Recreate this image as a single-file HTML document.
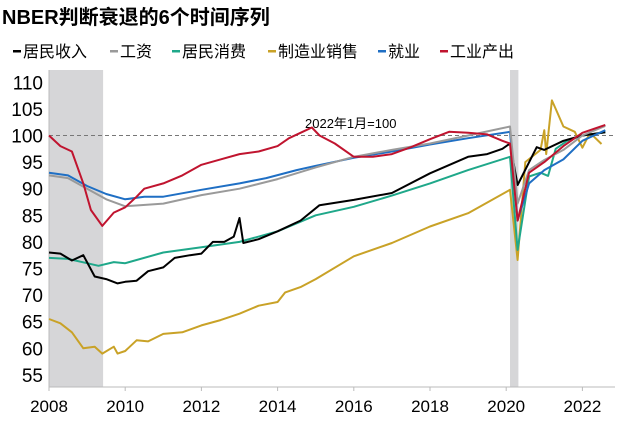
<!DOCTYPE html>
<html><head><meta charset="utf-8"><style>
body{margin:0;background:#fff;width:625px;height:416px;overflow:hidden;font-family:"Liberation Sans","Noto Sans CJK SC",sans-serif}
svg text{font-family:"Liberation Sans","Noto Sans CJK SC",sans-serif}
</style></head><body>
<svg id="chart" width="625" height="416" xmlns="http://www.w3.org/2000/svg">
<text x="2" y="24" font-size="20" font-weight="bold" fill="#000">NBER判断衰退的6个时间序列</text>
<g id="legend"></g>
<g id="plot"></g>
</svg>
<script>
const yTicks=[55,60,65,70,75,80,85,90,95,100,105,110];
const xTicks=[2008,2010,2012,2014,2016,2018,2020,2022];
const recessions=[[2008.0,2009.42],[2020.1,2020.32]];
const seriesNames=["居民收入","工资","居民消费","制造业销售","就业","工业产出"];
const seriesColors=["#000000","#9a9a9a","#1fa88a","#c9a227","#1f6fc4","#c0142f"];
const incomeT=[2008,2008.3,2008.6,2008.9,2009.2,2009.5,2009.8,2010,2010.3,2010.6,2011,2011.3,2011.7,2012,2012.3,2012.6,2012.85,2013,2013.1,2013.5,2014,2014.6,2015.1,2016,2017,2018,2019,2019.5,2019.9,2020.1,2020.3,2020.8,2021,2021.5,2022,2022.6];
const incomeV=[78,77.8,76.5,77.5,73.5,73,72.2,72.5,72.7,74.5,75.2,77,77.5,77.8,80,80,81,84.5,79.8,80.5,82,84,86.9,87.9,89.2,92.9,96,96.5,97.5,98.5,90.7,97.8,97.3,99,100,100.6];
const wageT=[2008,2008.5,2009,2009.5,2010,2011,2012,2013,2014,2015,2016,2017,2018,2019,2020.1,2020.3,2020.6,2021,2021.5,2022,2022.6];
const wageV=[92.5,92,90,88,86.7,87.2,88.8,90,91.8,94,96,97.3,98.5,100,101.7,87.2,93.5,95.4,97.3,100,101.8];
const consT=[2008,2008.5,2009,2009.3,2009.7,2010,2011,2012,2013,2014,2015,2016,2017,2018,2019,2020.1,2020.3,2020.6,2020.9,2021.1,2021.3,2021.6,2022,2022.6];
const consV=[77,76.8,76,75.5,76.2,76,78,79,80,82,85,86.6,88.7,91,93.5,96,78.5,92.3,93,92.4,97.5,99,100,100.6];
const salesT=[2008,2008.3,2008.6,2008.9,2009.2,2009.4,2009.7,2009.8,2010,2010.3,2010.6,2011,2011.5,2012,2012.5,2013,2013.5,2014,2014.2,2014.6,2015,2016,2017,2018,2019,2020.1,2020.3,2020.5,2020.9,2021,2021.05,2021.2,2021.3,2021.5,2021.8,2022,2022.2,2022.5];
const salesV=[65.5,64.7,63,60,60.3,59,60.3,59,59.5,61.5,61.3,62.7,63,64.3,65.3,66.5,68,68.7,70.5,71.5,73,77.3,79.8,82.9,85.4,89.8,76.6,95,97.3,101,96.5,106.6,105,101.7,100.7,97.7,100.5,98.4];
const empT=[2008,2008.5,2009,2009.5,2010,2010.5,2011,2012,2013,2013.7,2014.5,2015,2016,2017,2018,2019,2020.1,2020.3,2020.6,2021,2021.5,2022,2022.6];
const empV=[93,92.5,90.5,89,88,88.5,88.5,89.8,91,92,93.5,94.3,95.8,97,98.3,99.5,100.7,84,91,93.5,95.5,99,101];
const indT=[2008,2008.3,2008.6,2008.75,2008.9,2009.1,2009.4,2009.7,2010,2010.3,2010.5,2011,2011.5,2012,2012.5,2013,2013.5,2014,2014.3,2014.6,2014.9,2015.1,2015.5,2016,2016.5,2017,2017.5,2018,2018.5,2019,2019.5,2019.9,2020.1,2020.3,2020.6,2021,2021.5,2022,2022.6];
const indV=[100,98,97,94,91,86,83,85.5,86.5,88.5,90,91,92.5,94.5,95.5,96.5,97,98,99.5,100.5,101.5,100,98.5,96,96,96.5,97.8,99.3,100.7,100.5,100.2,99,98.5,84,93,95,98,100.5,102];
const seriesT=[incomeT,wageT,consT,salesT,empT,indT];
const seriesV=[incomeV,wageV,consV,salesV,empV,indV];
const X0=49,X1=615,Y0=70,Y1=387;
const xs=t=>49+(t-2008)*38.1;
const ys=v=>135.5-(v-100)*5.32;
const NS="http://www.w3.org/2000/svg";
const plot=document.getElementById('plot');
function mk(tag,attrs,parent){const e=document.createElementNS(NS,tag);for(const k in attrs)e.setAttribute(k,attrs[k]);parent.appendChild(e);return e;}
recessions.forEach(r=>{
 const e=mk('rect',{x:xs(r[0]),y:Y0,width:xs(r[1])-xs(r[0]),height:Y1-Y0,fill:'#d6d6d8'},plot);
 
 
});
let ax=mk('line',{x1:X0,y1:Y0,x2:X0,y2:Y1,stroke:'#bbb'},plot);


ax=mk('line',{x1:X0,y1:Y1,x2:X1,y2:Y1,stroke:'#bbb'},plot);


yTicks.forEach(v=>{
 const t=mk('text',{x:X0-6,y:ys(v)+7,'text-anchor':'end','font-size':19,fill:'#000'},plot);t.textContent=v;
 
 
});
xTicks.forEach(v=>{
 mk('line',{x1:xs(v),y1:Y1,x2:xs(v),y2:Y1+4,stroke:'#bbb'},plot);
 const t=mk('text',{x:xs(v),y:412,'text-anchor':'middle','font-size':17,fill:'#000'},plot);t.textContent=v;
 
 
});
const ref=mk('line',{x1:X0,y1:ys(100),x2:X1,y2:ys(100),stroke:'#777','stroke-dasharray':'4,3','stroke-width':1},plot);


const rl=mk('text',{x:305,y:128,'font-size':13,fill:'#000'},plot);rl.textContent='2022年1月=100';


const order=[3,2,0,4,1,5];
order.forEach(i=>{
 const d=seriesT[i].map((t,j)=>(j?'L':'M')+xs(t).toFixed(1)+','+ys(seriesV[i][j]).toFixed(1)).join(' ');
 const p=mk('path',{d:d,fill:'none',stroke:seriesColors[i],'stroke-width':2,'stroke-linejoin':'round'},plot);
 
 
});
const lg=document.getElementById('legend');
const lx=[13,110,172,268,378,440];
seriesNames.forEach((n,i)=>{
 const g=mk('g',{},lg);
 
 
 mk('rect',{x:lx[i],y:50,width:8,height:2.5,fill:seriesColors[i]},g);
 const t=mk('text',{x:lx[i]+10,y:57,'font-size':16,fill:'#000'},g);t.textContent=n;
});
</script>
</body></html>
